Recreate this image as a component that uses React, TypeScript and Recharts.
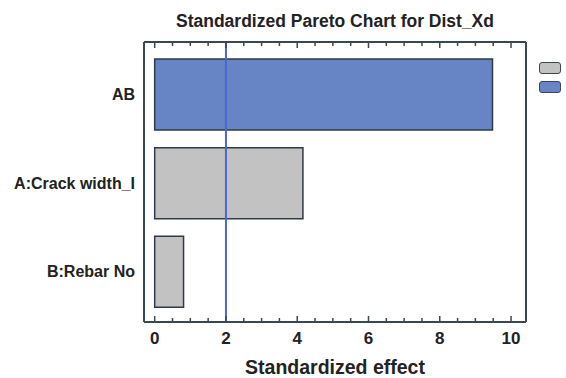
import { BarChart, Bar, XAxis, YAxis, ReferenceLine, Cell } from 'recharts';

const factors = ['AB', 'A:Crack width_I', 'B:Rebar No'];
const effects = [9.48, 4.16, 0.81];
const significant = [true, false, false];
const xTicks = [0, 0.5, 1, 1.5, 2, 2.5, 3, 3.5, 4, 4.5, 5, 5.5, 6, 6.5, 7, 7.5, 8, 8.5, 9, 9.5, 10];
const tickLabels = [0, 2, 4, 6, 8, 10];
const criticalValue = 2;
const legendColors = ['#c2c2c2', '#6785c4'];

const data = factors.map((name, i) => ({ name, effect: effects[i], sig: significant[i] }));

const FONT = '"Liberation Sans", Arial, sans-serif';
const FRAME = '#3a4852';

function BottomTick(props: any) {
  const { x, y, payload } = props;
  const major = tickLabels.includes(payload.value);
  return (
    <g>
      <line x1={x} x2={x} y1={y} y2={y - (major ? 6 : 4)} stroke={FRAME} strokeWidth={1.5} />
      {major && (
        <text x={x} y={y + 22} textAnchor="middle" fontFamily={FONT} fontWeight="bold" fontSize={17} fill="#222">
          {payload.value}
        </text>
      )}
    </g>
  );
}

function TopTick(props: any) {
  const { x, y, payload } = props;
  const major = tickLabels.includes(payload.value);
  return <line x1={x} x2={x} y1={y} y2={y + (major ? 6 : 4)} stroke={FRAME} strokeWidth={1.5} />;
}

export default function App() {
  return (
    <div style={{ position: 'relative', width: 566, height: 378, background: '#fff', fontFamily: FONT }}>
      <style>{'body{margin:0}'}</style>
      <div
        style={{
          position: 'absolute',
          top: 11,
          left: 144,
          width: 382,
          textAlign: 'center',
          fontWeight: 'bold',
          fontSize: 17.5,
          lineHeight: '20px',
          color: '#222',
        }}
      >
        Standardized Pareto Chart for Dist_Xd
      </div>
      <div style={{ position: 'absolute', top: 62, left: 539 }}>
        {legendColors.map((c) => (
          <div
            key={c}
            style={{
              width: 20,
              height: 10,
              background: c,
              border: '1.5px solid #3a4852',
              borderRadius: 3,
              marginBottom: 7,
            }}
          />
        ))}
      </div>
      <BarChart
        width={566}
        height={378}
        data={data}
        layout="vertical"
        margin={{ top: 0, right: 0, left: 0, bottom: 0 }}
        barSize={71}
      >
        <XAxis
          xAxisId="bottom"
          type="number"
          dataKey="effect"
          domain={[-0.3, 10.42]}
          ticks={xTicks}
          interval={0}
          allowDataOverflow
          height={56}
          tickSize={0}
          tickMargin={0}
          tickLine={false}
          axisLine={{ stroke: FRAME, strokeWidth: 2 }}
          tick={<BottomTick />}
          label={{
            value: 'Standardized effect',
            position: 'insideBottom',
            offset: 4,
            style: { fontFamily: FONT, fontWeight: 'bold', fontSize: 19.5, fill: '#222' },
          }}
        />
        <XAxis
          xAxisId="top"
          orientation="top"
          type="number"
          domain={[-0.3, 10.42]}
          ticks={xTicks}
          interval={0}
          allowDataOverflow
          height={42}
          tickSize={0}
          tickMargin={0}
          tickLine={false}
          axisLine={{ stroke: FRAME, strokeWidth: 2 }}
          tick={<TopTick />}
        />
        <YAxis
          yAxisId="left"
          type="category"
          dataKey="name"
          width={144}
          padding={{ top: 8, bottom: 6 }}
          tickSize={0}
          tickMargin={9}
          tickLine={false}
          axisLine={{ stroke: FRAME, strokeWidth: 2 }}
          tick={{ fontFamily: FONT, fontWeight: 'bold', fontSize: 16, fill: '#222' }}
        />
        <YAxis
          yAxisId="right"
          orientation="right"
          type="category"
          dataKey="name"
          width={40}
          tick={false}
          tickLine={false}
          axisLine={{ stroke: FRAME, strokeWidth: 2 }}
        />
        <Bar
          dataKey="effect"
          xAxisId="bottom"
          yAxisId="left"
          stroke="#2f3b48"
          strokeWidth={1.5}
          isAnimationActive={false}
        >
          {data.map((d) => (
            <Cell key={d.name} fill={d.sig ? '#6785c4' : '#c2c2c2'} />
          ))}
        </Bar>
        <ReferenceLine
          x={criticalValue}
          xAxisId="bottom"
          yAxisId="left"
          stroke="#4a67d4"
          strokeWidth={2}
        />
      </BarChart>
    </div>
  );
}
